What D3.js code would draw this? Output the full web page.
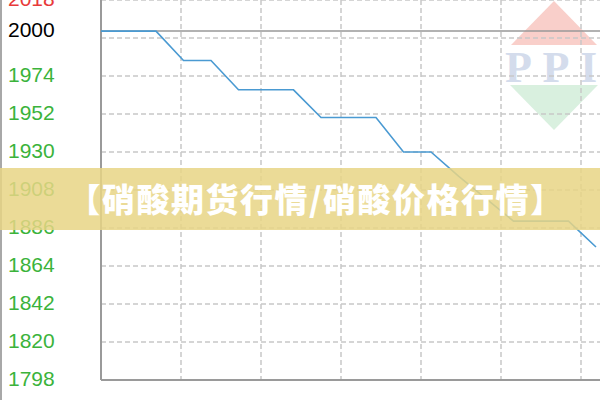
<!DOCTYPE html>
<html><head><meta charset="utf-8">
<script src="https://cdn.jsdelivr.net/npm/d3@7"></script>
<style>
html,body{margin:0;padding:0;background:#fff;}
svg{display:block;}
</style></head>
<body>
<svg id="c" width="600" height="400"></svg>
<script>
// ---- data ----
const categories = ["1","2","3","4","5","6","7","8","9","10","11","12","13","14","15","16","17","18","19"];
const prices = [2000,2000,2000,1983,1983,1966,1966,1966,1950,1950,1950,1930,1930,1916,1903,1890,1890,1890,1875];
const yTicks = [1798,1820,1842,1864,1886,1908,1930,1952,1974,1996,2018];
const hiddenTicks = [1996];
const maxLabel = 2018;
const currentValue = 2000;
const xGridSteps = [1,2,3,4,5,6];
const bannerText = "【硝酸期货行情/硝酸价格行情】";
const logoText = "PPI";

// ---- drawing ----
const svg = d3.select("#c");
const W = 600, H = 400;
const pL = 101, pT = 0, pB = 380, pR = 600;

const x = d3.scalePoint().domain(categories).range([pL, 596]);
const y = d3.scaleLinear().domain([1798, 2018]).range([pB, pT]);
const gx = d3.scaleLinear().domain([0, 1]).range([pL, pL + 80]);

// watermark logo
const logo = svg.append("g");
const cx = 554, cyTop = 1, cyBot = 130, hw = 63;
const cyMid = (cyTop + cyBot) / 2;
const half = (cyBot - cyTop) / 2;
function hwAt(yy){ return hw * (1 - Math.abs(yy - cyMid) / half); }
const redBase = 45, greenTop = 85;
logo.append("path")
  .attr("d", `M${cx},${cyTop}L${cx + hwAt(redBase)},${redBase}L${cx - hwAt(redBase)},${redBase}Z`)
  .attr("fill", "#f9cfca");
logo.append("path")
  .attr("d", `M${cx - hwAt(greenTop)},${greenTop}L${cx + hwAt(greenTop)},${greenTop}L${cx},${cyBot}Z`)
  .attr("fill", "#d9f0df");
logo.append("text")
  .attr("x", 505).attr("y", 82)
  .attr("textLength", 92).attr("lengthAdjust", "spacing")
  .attr("font-family", "Liberation Serif").attr("font-weight", "bold")
  .attr("font-size", 44).attr("fill", "#d4dcec")
  .text(logoText);

// grid
const grid = svg.append("g").attr("stroke", "#c8c8c8").attr("stroke-width", 1.5)
  .attr("stroke-dasharray", "5,3").attr("fill", "none");
grid.selectAll("line.h").data(yTicks.filter(v => v !== 1798)).join("line")
  .attr("x1", pL).attr("x2", pR)
  .attr("y1", d => y(d)).attr("y2", d => y(d));
grid.selectAll("line.v").data(xGridSteps).join("line")
  .attr("x1", d => gx(d)).attr("x2", d => gx(d))
  .attr("y1", pT).attr("y2", pB);

// left border
svg.append("line").attr("x1", 1).attr("x2", 1).attr("y1", 0).attr("y2", H)
  .attr("stroke", "#a8a8a8").attr("stroke-width", 2);

// axes lines
svg.append("line").attr("x1", pL).attr("x2", pL).attr("y1", pT).attr("y2", pB)
  .attr("stroke", "#9a9a9a").attr("stroke-width", 2);
svg.append("line").attr("x1", pL).attr("x2", pR).attr("y1", pB).attr("y2", pB)
  .attr("stroke", "#9a9a9a").attr("stroke-width", 2);

// current value line
svg.append("line").attr("x1", pL).attr("x2", pR)
  .attr("y1", y(currentValue)).attr("y2", y(currentValue))
  .attr("stroke", "#999").attr("stroke-width", 1.5);

// y labels
const labels = svg.append("g").attr("font-family", "Liberation Sans").attr("font-size", 21);
labels.selectAll("text.t").data(yTicks.filter(v => !hiddenTicks.includes(v))).join("text")
  .attr("x", 8).attr("y", d => y(d) + 5.5)
  .attr("fill", d => d === maxLabel ? "#e83a3a" : "#3bb33b")
  .text(d => d);
labels.append("text").attr("x", 8).attr("y", y(currentValue) + 5.5)
  .attr("fill", "#000").text(currentValue);

// price line
svg.append("path").datum(prices)
  .attr("fill", "none").attr("stroke", "#4a9ad2").attr("stroke-width", 1.6)
  .attr("d", d3.line().x((d, i) => x(categories[i])).y(d => y(d)));

// banner
svg.append("rect").attr("x", 0).attr("y", 168).attr("width", W).attr("height", 62)
  .attr("fill", "#e8d585").attr("fill-opacity", 0.85);
svg.append("text").attr("x", 316).attr("y", 198)
  .attr("text-anchor", "middle").attr("dominant-baseline", "central")
  .attr("font-family", "Noto Sans CJK SC").attr("font-weight", 900)
  .attr("font-size", 33).attr("letter-spacing", 1.5)
  .attr("fill", "#fff")
  .text(bannerText);
</script>
</body></html>
